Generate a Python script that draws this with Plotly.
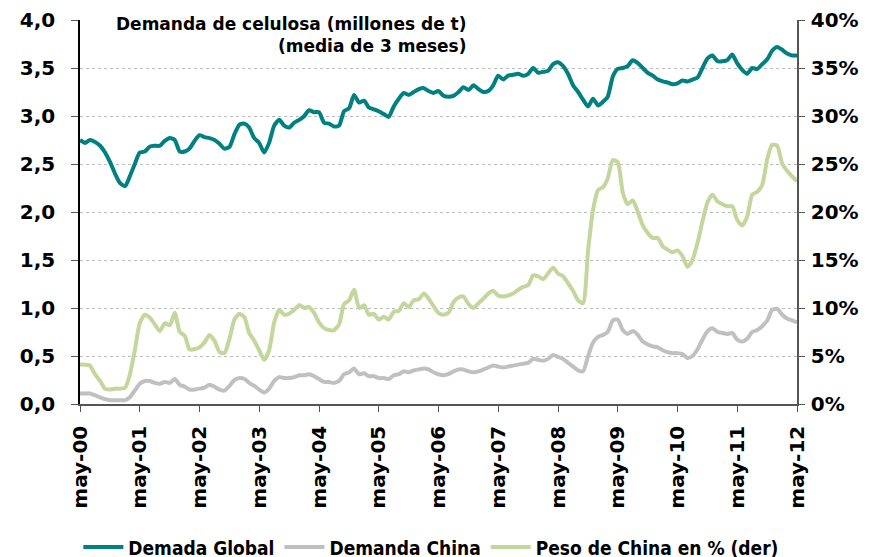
import pandas as pd
import plotly.graph_objects as go

months = pd.date_range("2000-05-01", periods=145, freq="MS")

demanda_global = [
    2.75, 2.72, 2.75, 2.73, 2.69, 2.62, 2.52, 2.40, 2.30, 2.27, 2.37, 2.50,
    2.62, 2.63, 2.68, 2.69, 2.69, 2.74, 2.77, 2.75, 2.63, 2.63, 2.66, 2.74,
    2.80, 2.78, 2.77, 2.75, 2.71, 2.66, 2.68, 2.81, 2.91, 2.92, 2.88, 2.77,
    2.72, 2.62, 2.72, 2.90, 2.96, 2.90, 2.88, 2.93, 2.96, 3.00, 3.06, 3.04,
    3.04, 2.93, 2.92, 2.89, 2.90, 3.05, 3.08, 3.22, 3.14, 3.16, 3.09, 3.07,
    3.05, 3.02, 2.99, 3.10, 3.18, 3.24, 3.22, 3.25, 3.28, 3.29, 3.26, 3.24,
    3.26, 3.21, 3.20, 3.21, 3.25, 3.30, 3.27, 3.32, 3.28, 3.25, 3.26, 3.32,
    3.42, 3.38, 3.42, 3.43, 3.44, 3.42, 3.44, 3.50, 3.45, 3.46, 3.47, 3.54,
    3.56, 3.52, 3.44, 3.32, 3.25, 3.17, 3.10, 3.18, 3.11, 3.15, 3.20, 3.41,
    3.49, 3.50, 3.52, 3.58, 3.55, 3.50, 3.45, 3.42, 3.38, 3.36, 3.35, 3.33,
    3.34, 3.37, 3.36, 3.38, 3.40, 3.50, 3.60, 3.63, 3.57, 3.57, 3.58, 3.64,
    3.55, 3.48, 3.44, 3.50, 3.49, 3.54, 3.59, 3.68, 3.72, 3.69, 3.65, 3.63,
    3.63,
]

demanda_china = [
    0.11, 0.11, 0.11, 0.09, 0.07, 0.05, 0.04, 0.04, 0.04, 0.04, 0.07, 0.14,
    0.21, 0.24, 0.24, 0.22, 0.21, 0.23, 0.22, 0.26, 0.20, 0.18, 0.15, 0.15,
    0.16, 0.17, 0.20, 0.18, 0.15, 0.14, 0.19, 0.25, 0.27, 0.26, 0.22, 0.19,
    0.15, 0.12, 0.16, 0.24, 0.28, 0.27, 0.27, 0.28, 0.30, 0.30, 0.31, 0.29,
    0.26, 0.23, 0.23, 0.22, 0.24, 0.31, 0.33, 0.37, 0.31, 0.32, 0.29, 0.29,
    0.27, 0.27, 0.26, 0.30, 0.31, 0.34, 0.33, 0.35, 0.36, 0.37, 0.36, 0.33,
    0.31, 0.30, 0.31, 0.34, 0.36, 0.36, 0.34, 0.33, 0.34, 0.36, 0.38, 0.40,
    0.39, 0.38, 0.39, 0.40, 0.41, 0.42, 0.43, 0.47, 0.46, 0.45, 0.47, 0.51,
    0.49, 0.47, 0.43, 0.39, 0.35, 0.34, 0.50, 0.64, 0.70, 0.72, 0.75, 0.87,
    0.88, 0.77, 0.73, 0.76, 0.72, 0.65, 0.62, 0.60, 0.59, 0.56, 0.54, 0.53,
    0.53, 0.52, 0.48, 0.50, 0.57, 0.67, 0.76, 0.79, 0.75, 0.74, 0.73, 0.74,
    0.67, 0.65, 0.68, 0.75, 0.77, 0.81, 0.87, 0.98, 0.99, 0.93, 0.89, 0.87,
    0.85,
]

peso_china = [
    4.1, 4.1, 4.0, 3.1, 2.4, 1.6, 1.5, 1.6, 1.6, 1.7, 3.0, 5.6,
    8.4, 9.3, 9.0, 8.3, 7.6, 8.4, 8.2, 9.5, 7.5, 7.1, 5.7, 5.7,
    5.9, 6.4, 7.2, 6.6, 5.4, 5.3, 6.8, 8.8, 9.4, 9.0, 7.4, 6.6,
    5.6, 4.6, 5.6, 8.5, 9.8, 9.3, 9.4, 9.8, 10.3, 10.0, 10.1, 9.5,
    8.5, 7.9, 7.7, 7.7, 8.3, 10.4, 10.8, 11.9, 10.0, 10.3, 9.3, 9.4,
    8.8, 9.1, 8.8, 9.6, 9.7, 10.5, 10.1, 10.8, 10.9, 11.5, 11.0, 10.2,
    9.5, 9.3, 9.5, 10.6, 11.1, 11.2, 10.4, 10.0, 10.5, 11.0, 11.5, 11.8,
    11.3, 11.2, 11.3, 11.5, 11.9, 12.2, 12.4, 13.4, 13.3, 13.0, 13.6, 14.2,
    13.6, 13.3, 12.6, 11.8, 10.8, 10.5, 16.0, 20.2, 22.3, 22.6, 23.5, 25.4,
    25.2, 22.0, 20.8, 21.2, 20.0, 18.6, 17.8, 17.3, 17.3, 16.4, 16.1, 15.8,
    16.0, 15.4, 14.3, 15.0, 16.8, 19.0, 21.0, 21.8, 21.1, 20.8, 20.6, 20.6,
    19.2, 18.6, 19.5, 21.8, 22.1, 22.8, 25.5, 27.0, 26.9, 25.0, 24.3, 23.7,
    23.2,
]

tick_dates = pd.date_range("2000-05-01", periods=13, freq="12MS")
tick_labels = ["may-00", "may-01", "may-02", "may-03", "may-04", "may-05", "may-06",
               "may-07", "may-08", "may-09", "may-10", "may-11", "may-12"]

left_ticks = [0, 0.5, 1.0, 1.5, 2.0, 2.5, 3.0, 3.5, 4.0]
left_labels = ["0,0", "0,5", "1,0", "1,5", "2,0", "2,5", "3,0", "3,5", "4,0"]
right_ticks = [0, 5, 10, 15, 20, 25, 30, 35, 40]
right_labels = ["0%", "5%", "10%", "15%", "20%", "25%", "30%", "35%", "40%"]

TEAL = "#008080"
GREY = "#C0C0C0"
GREEN = "#C3D69B"
FONT = "DejaVu Sans"

fig = go.Figure()
fig.add_trace(go.Scatter(x=months, y=demanda_global, name="Demada Global", mode="lines",
                         line=dict(color=TEAL, width=4, shape="spline", smoothing=0.6)))
fig.add_trace(go.Scatter(x=months, y=demanda_china, name="Demanda China", mode="lines",
                         line=dict(color=GREY, width=4, shape="spline", smoothing=0.6)))
fig.add_trace(go.Scatter(x=months, y=peso_china, name="Peso de China en % (der)", mode="lines",
                         yaxis="y2",
                         line=dict(color=GREEN, width=4, shape="spline", smoothing=0.6)))

fig.update_layout(
    width=870, height=557,
    margin=dict(l=80, r=73, t=20, b=153, autoexpand=False),
    paper_bgcolor="white", plot_bgcolor="white",
    showlegend=True,
    legend=dict(orientation="h", x=0.49, xanchor="center", y=-0.373, yanchor="middle",
                font=dict(family="DejaVu Sans Condensed", size=19, color="black", weight="bold"),
                itemwidth=40, tracegroupgap=0),
    xaxis=dict(
        range=[months[0], months[-1]],
        tickvals=tick_dates, ticktext=tick_labels, tickangle=-90,
        tickfont=dict(family=FONT, size=20, color="black", weight="bold"),
        showgrid=False, showline=True, linecolor="#555555", linewidth=1.5,
        ticks="outside", ticklen=6, tickcolor="#555555",
        ticklabelstandoff=6, automargin=False,
    ),
    yaxis=dict(
        range=[0, 4], tickvals=left_ticks, ticktext=left_labels,
        tickfont=dict(family=FONT, size=20, color="black", weight="bold"),
        showgrid=True, gridcolor="#BBBBBB", griddash="dot", gridwidth=1,
        showline=True, linecolor="black", linewidth=1.5,
        ticks="outside", ticklen=7, tickcolor="#555555",
        ticklabelstandoff=12, zeroline=False, automargin=False,
    ),
    yaxis2=dict(
        range=[0, 40], tickvals=right_ticks, ticktext=right_labels,
        overlaying="y", side="right",
        tickfont=dict(family=FONT, size=20, color="black", weight="bold"),
        showgrid=False, showline=True, linecolor="#555555", linewidth=1.5,
        ticks="outside", ticklen=6, tickcolor="#555555",
        ticklabelstandoff=2, zeroline=False, automargin=False,
    ),
)

fig.add_annotation(
    text="Demanda de celulosa (millones de t)<br>(media de 3 meses)",
    xref="paper", yref="paper", x=(468 - 80) / 717, y=1 + 8 / 384,
    xanchor="right", yanchor="top", align="right", showarrow=False,
    font=dict(family=FONT, size=17, color="black", weight="bold"),
)

fig.write_html("out.html", config={"displayModeBar": False},
               post_script="document.body.style.margin='0';document.body.style.overflow='hidden';")
